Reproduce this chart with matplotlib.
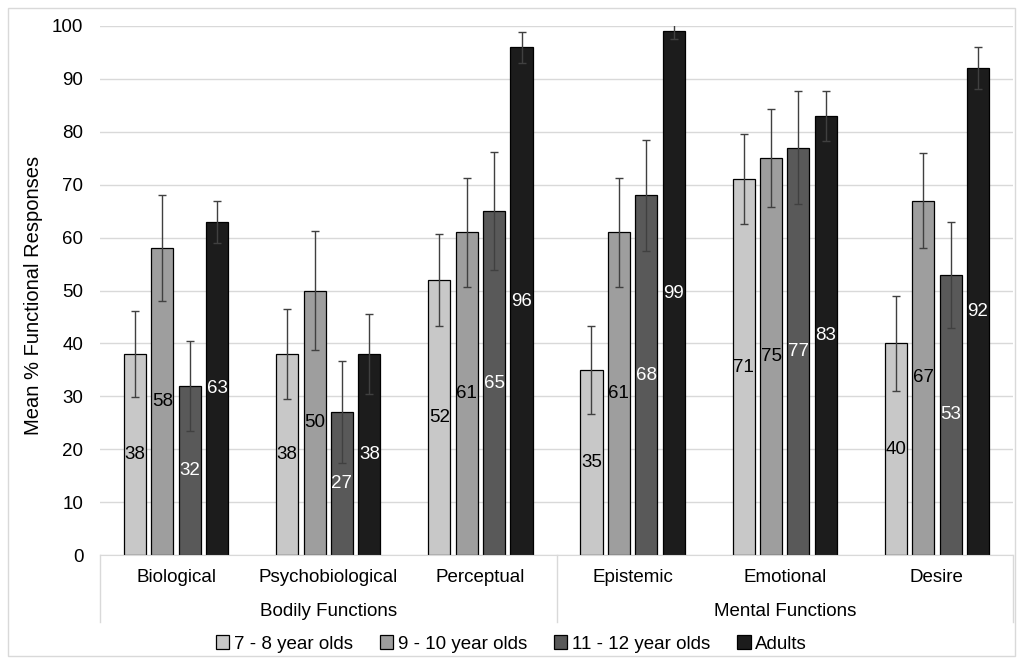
import numpy as np
import matplotlib
matplotlib.use("Agg")
import matplotlib.pyplot as plt
from matplotlib.patches import Rectangle

plt.rcParams['font.family'] = ['Liberation Sans', 'DejaVu Sans']

categories = ["Biological", "Psychobiological", "Perceptual", "Epistemic", "Emotional", "Desire"]
groups = ["Bodily Functions", "Mental Functions"]
series = ["7 - 8 year olds", "9 - 10 year olds", "11 - 12 year olds", "Adults"]

age_7_8 = [38, 38, 52, 35, 71, 40]
age_9_10 = [58, 50, 61, 61, 75, 67]
age_11_12 = [32, 27, 65, 68, 77, 53]
adults = [63, 38, 96, 99, 83, 92]

err_7_8 = [8.2, 8.5, 8.7, 8.3, 8.5, 9.0]
err_9_10 = [10.0, 11.3, 10.3, 10.3, 9.3, 9.0]
err_11_12 = [8.5, 9.7, 11.1, 10.5, 10.7, 10.0]
err_adults = [4.0, 7.6, 2.9, 1.5, 4.8, 4.0]

values = [age_7_8, age_9_10, age_11_12, adults]
errors = [err_7_8, err_9_10, err_11_12, err_adults]
colors = ["#c8c8c8", "#9e9e9e", "#595959", "#1c1c1c"]
text_colors = ["black", "black", "white", "white"]

fs = 13.5

fig = plt.figure(figsize=(10.23, 6.62), dpi=100)
ax = fig.add_axes([100 / 1023, 1 - 555 / 662, 913 / 1023, 529 / 662])

x = np.arange(len(categories))
width = 0.145
step = 0.18
for i, (vals, errs) in enumerate(zip(values, errors)):
    pos = x + (i - 1.5) * step
    ax.bar(pos, vals, width, color=colors[i], edgecolor="black", linewidth=0.9,
           label=series[i], zorder=2)
    ax.errorbar(pos, vals, yerr=errs, fmt="none", ecolor="#404040", elinewidth=1,
                capsize=3, capthick=1, zorder=3)
    for p, v in zip(pos, vals):
        ax.text(p, v / 2, str(v), ha="center", va="center", fontsize=fs,
                color=text_colors[i], zorder=4)

ax.set_xlim(-0.5, len(categories) - 0.5)
ax.set_ylim(0, 100)
ax.set_yticks(range(0, 101, 10))
ax.tick_params(axis="y", length=0, labelsize=fs, pad=12)
ax.set_xticks([])
ax.yaxis.grid(True, color="#d9d9d9", linewidth=1)
ax.set_axisbelow(True)
for s in ["top", "right", "left"]:
    ax.spines[s].set_visible(False)
ax.spines["bottom"].set_color("#d9d9d9")
ax.set_ylabel("Mean % Functional Responses", fontsize=14.5)
ax.yaxis.set_label_coords(-57 / 913, 0.5 - 5 / 529)

# two-level category axis
trans = ax.get_xaxis_transform()
for c, name in enumerate(categories):
    ax.text(c, -22 / 529, name, transform=trans, ha="center", va="center", fontsize=fs)
for g, name in enumerate(groups):
    ax.text(g * 3 + 1, -56 / 529, name, transform=trans, ha="center", va="center", fontsize=fs)
for xv in [-0.5, 2.5, 5.5]:
    ax.plot([xv, xv], [0, -67 / 529], transform=trans, color="#d9d9d9", linewidth=1,
            clip_on=False)

fig.legend(loc="center", bbox_to_anchor=(0.5, 1 - 644 / 662), ncol=4, frameon=False,
           fontsize=fs, handlelength=0.7, handleheight=0.7, handletextpad=0.25,
           columnspacing=1.45)

fig.patches.append(Rectangle((8 / 1023, 6 / 662), 1007 / 1023, 648 / 662,
                             transform=fig.transFigure, fill=False,
                             edgecolor="#d9d9d9", linewidth=1))

fig.savefig("out.png", dpi=100)
